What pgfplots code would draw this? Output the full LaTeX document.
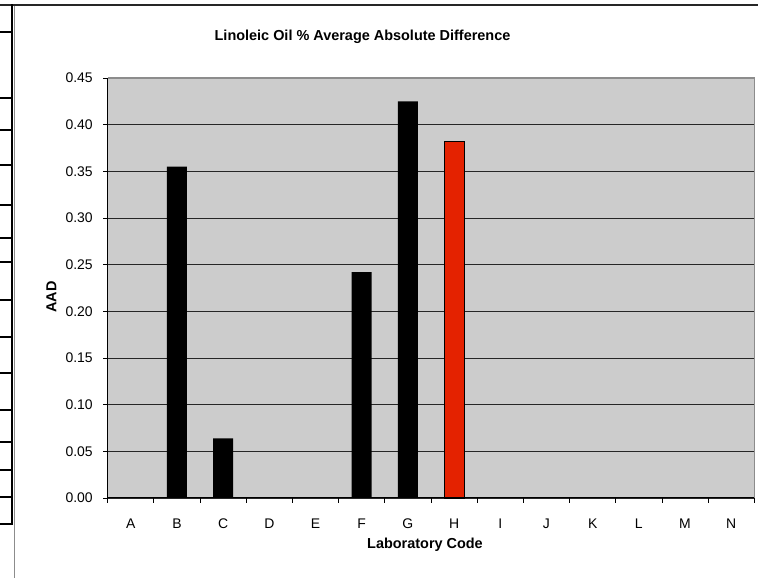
\documentclass[border=0pt]{standalone}
\usepackage{fontspec}
\setmainfont{Liberation Sans}
\usepackage{pgfplots}
\pgfplotsset{compat=1.18}
\definecolor{barred}{RGB}{228,34,0}
\definecolor{plotbg}{RGB}{204,204,204}
\begin{document}
\begin{tikzpicture}[x=1bp,y=1bp]
\useasboundingbox (0,0) rectangle (758,578);
\fill[white] (0,0) rectangle (758,578);
% surrounding sheet/frame lines
\draw[black!45, line width=1.3bp] (14.5,0) -- (14.5,573);
\draw[black!85, line width=1.3bp] (0,573) -- (758,573);
\draw[black, line width=1.6bp] (12,573.6) -- (12,54);
\foreach \yy in {32,98,130,165,205,238,262,300,337,373,410,442,470,497,524}
  \draw[black, line width=1.6bp] (0,578-\yy) -- (12.8,578-\yy);
\begin{axis}[
  at={(107.7bp,80bp)}, anchor=south west,
  scale only axis, width=646.6bp, height=420bp,
  xmin=-0.5, xmax=13.5, ymin=0, ymax=0.45,
  axis x line*=bottom, axis y line*=left,
  axis line style={-, black, line width=1bp},
  axis background/.style={fill=plotbg},
  xtick={0,1,2,3,4,5,6,7,8,9,10,11,12,13},
  xticklabels={A,B,C,D,E,F,G,H,I,J,K,L,M,N},
  minor xtick={-0.5,0.5,1.5,2.5,3.5,4.5,5.5,6.5,7.5,8.5,9.5,10.5,11.5,12.5,13.5},
  major x tick style={draw=none},
  minor tick length=5bp, major tick length=4.5bp,
  tick align=outside,
  tick style={black, line width=0.8bp},
  ytick={0,0.05,0.10,0.15,0.20,0.25,0.30,0.35,0.40,0.45},
  ymajorgrids, grid style={black!85, line width=0.8bp},
  /pgf/number format/fixed,
  /pgf/number format/fixed zerofill,
  /pgf/number format/precision=2,
  /pgf/number format/assume math mode=true,
  tick label style={font=\fontsize{14}{16}\selectfont},
  xticklabel style={yshift=-13bp},
  yticklabel style={xshift=-7bp},
  clip=false,
]
\addplot[ybar, bar width=20bp, bar shift=0pt, fill=black, draw=none]
  coordinates {(0,0) (1,0.355) (2,0.064) (3,0) (4,0) (5,0.242) (6,0.425) (8,0) (9,0) (10,0) (11,0) (12,0) (13,0)};
\addplot[ybar, bar width=20bp, bar shift=0pt, fill=barred, draw=black, line width=1.2bp]
  coordinates {(7,0.382)};
\draw[black!45, line width=1.2bp] (rel axis cs:0,1) -- (rel axis cs:1,1) -- (rel axis cs:1,0);
\end{axis}
\node[font=\bfseries\fontsize{14.5}{16}\selectfont] at (362.5,541) {Linoleic Oil \% Average Absolute Difference};
\node[font=\bfseries\fontsize{14.5}{16}\selectfont, rotate=90] at (51.5,281) {AAD};
\node[font=\bfseries\fontsize{14.5}{16}\selectfont] at (425,33) {Laboratory Code};
\end{tikzpicture}
\end{document}
